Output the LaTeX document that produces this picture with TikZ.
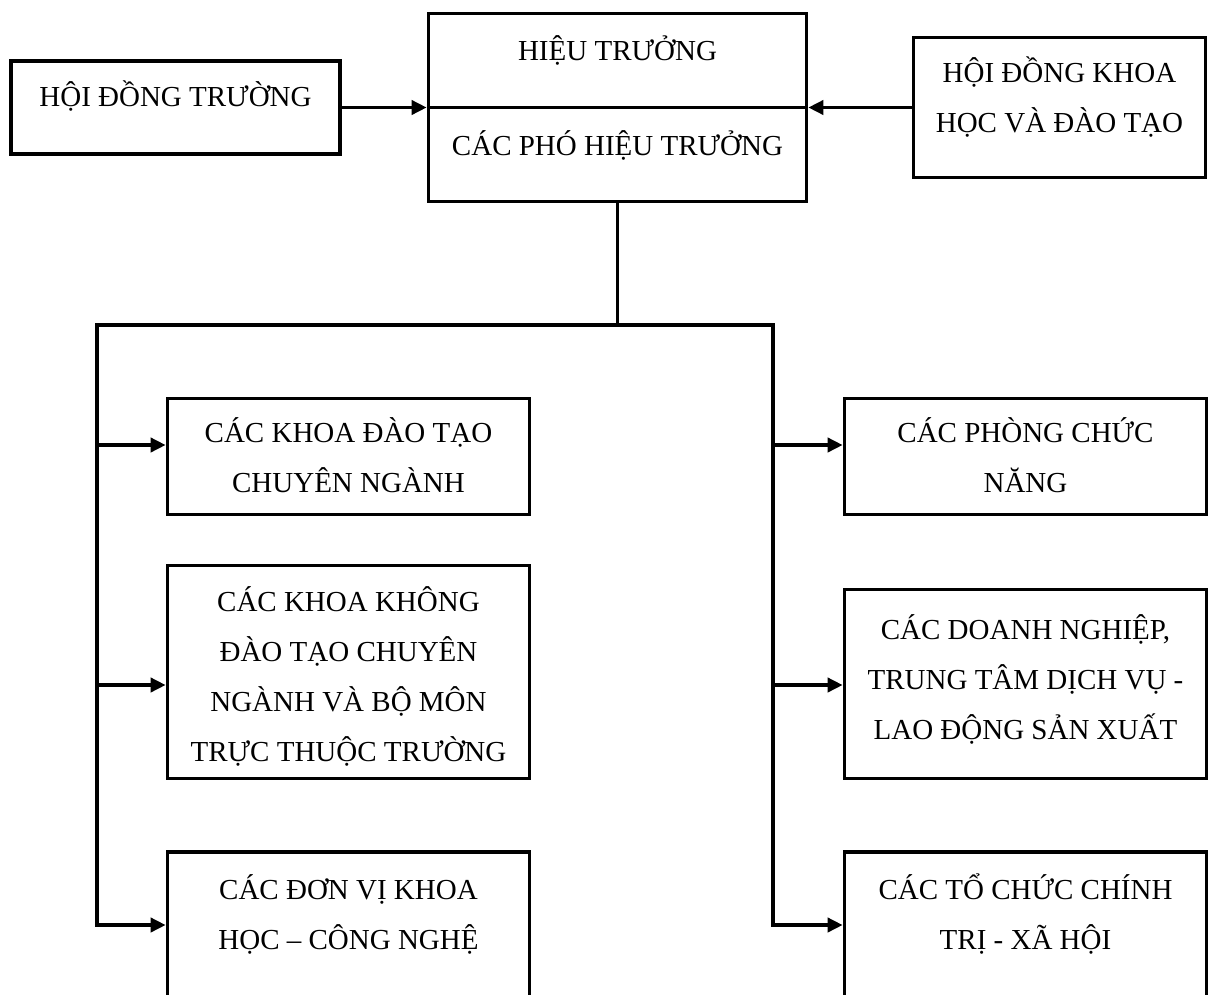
\documentclass[tikz,border=0pt]{standalone}
\usepackage{fontspec}
\setmainfont{Liberation Serif}
\usetikzlibrary{arrows.meta}

% strut that centres a line on the cap height of the 29pt face
\newcommand{\capstrut}{\rule[-14.8pt]{0pt}{48.8pt}}

\tikzset{
  orgbox/.style={draw, line width=3.6pt, inner sep=0pt, fill=white},
  boxtext/.style={inner sep=0pt, align=center,
    font=\fontsize{29}{50}\selectfont},
  link/.style={line width=3.6pt},
  arr/.style={line width=3.6pt, -{Triangle[length=15pt,width=14pt]}},
}

\begin{document}
\begin{tikzpicture}[x=1pt, y=-1pt]
  \path[use as bounding box] (0,0) rectangle (1211,994);
  \clip (0,0) rectangle (1211,994);

  % upper tier
  \node[orgbox, minimum width=329pt, minimum height=93pt] (hdt) at (175.5,107.5) {};
  \node[orgbox, minimum width=378pt, minimum height=188pt] (top) at (617.5,107.5) {};
  \node[orgbox, minimum width=292pt, minimum height=140pt] (hdkh) at (1059.5,107.5) {};
  \draw[link] (top.west) -- (top.east);

  % left column
  \node[orgbox, minimum width=362pt, minimum height=116pt] (l1) at (348.5,456.5) {};
  \node[orgbox, minimum width=362pt, minimum height=213pt] (l2) at (348.5,672) {};
  \node[orgbox, minimum width=362pt, minimum height=158pt] (l3) at (348.5,931) {};

  % right column
  \node[orgbox, minimum width=362pt, minimum height=116pt] (r1) at (1025.5,456.5) {};
  \node[orgbox, minimum width=362pt, minimum height=189pt] (r2) at (1025.5,684) {};
  \node[orgbox, minimum width=362pt, minimum height=158pt] (r3) at (1025.5,931) {};

  % labels
  \node[boxtext] (hdt-t) at (175.5,97) {\capstrut HỘI ĐỒNG TRƯỜNG};
  \node[boxtext] (top-a) at (617.5,51) {\capstrut HIỆU TRƯỞNG};
  \node[boxtext] (top-b) at (617.5,146) {\capstrut CÁC PHÓ HIỆU TRƯỞNG};
  \node[boxtext] (hdkh-t) at (1059.5,98) {\capstrut HỘI ĐỒNG KHOA\\\capstrut HỌC VÀ ĐÀO TẠO};
  \node[boxtext] (l1-t) at (348.5,458) {\capstrut CÁC KHOA ĐÀO TẠO\\\capstrut CHUYÊN NGÀNH};
  \node[boxtext] (l2-t) at (348.5,676.5) {\capstrut CÁC KHOA KHÔNG\\\capstrut ĐÀO TẠO CHUYÊN\\\capstrut NGÀNH VÀ BỘ MÔN\\\capstrut TRỰC THUỘC TRƯỜNG};
  \node[boxtext] (l3-t) at (348.5,915) {\capstrut CÁC ĐƠN VỊ KHOA\\\capstrut HỌC – CÔNG NGHỆ};
  \node[boxtext] (r1-t) at (1025.5,457.5) {\capstrut CÁC PHÒNG CHỨC\\\capstrut NĂNG};
  \node[boxtext] (r2-t) at (1025.5,680) {\capstrut CÁC DOANH NGHIỆP,\\\capstrut TRUNG TÂM DỊCH VỤ -\\\capstrut LAO ĐỘNG SẢN XUẤT};
  \node[boxtext] (r3-t) at (1025.5,915) {\capstrut CÁC TỔ CHỨC CHÍNH\\\capstrut TRỊ - XÃ HỘI};

  % advisory councils feed the rector's office
  \draw[arr] (hdt.east) -- (top.west);
  \draw[arr] (hdkh.west) -- (top.east);

  % trunk and distribution bus
  \coordinate (busl) at (97,325);
  \coordinate (busr) at (773,325);
  \draw[link] (top.south) -- (top.south |- busl);
  \draw[link, line cap=rect] (busl) -- (busr);

  \coordinate (la1) at (97,445);
  \coordinate (la2) at (97,685);
  \coordinate (la3) at (97,925);
  \coordinate (ra1) at (773,445);
  \coordinate (ra2) at (773,685);
  \coordinate (ra3) at (773,925);

  \draw[arr] (busl) -- (la3) -- (la3 -| l3.west);
  \draw[arr] (la1) -- (la1 -| l1.west);
  \draw[arr] (la2) -- (la2 -| l2.west);

  \draw[arr] (busr) -- (ra3) -- (ra3 -| r3.west);
  \draw[arr] (ra1) -- (ra1 -| r1.west);
  \draw[arr] (ra2) -- (ra2 -| r2.west);
\end{tikzpicture}
\end{document}
